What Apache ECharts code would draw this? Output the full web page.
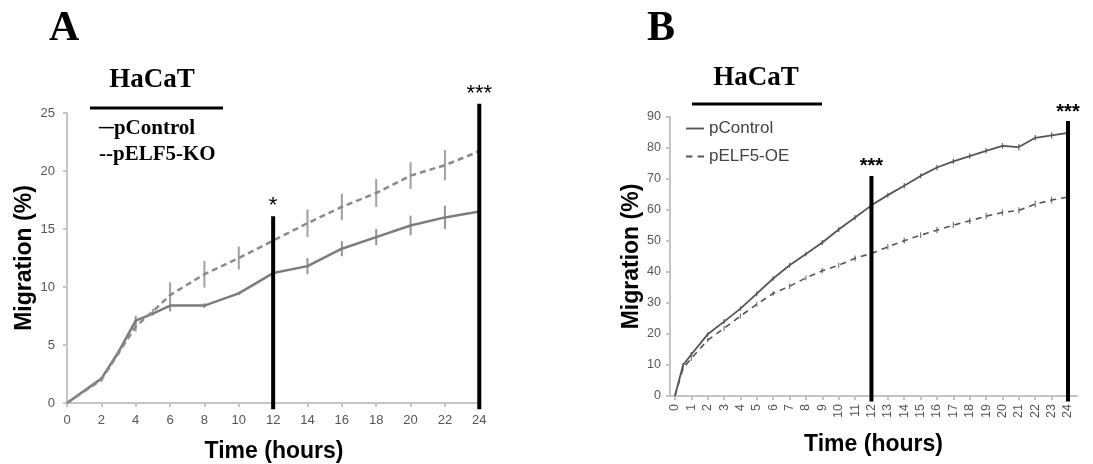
<!DOCTYPE html>
<html><head><meta charset="utf-8">
<script src="https://cdn.jsdelivr.net/npm/echarts@6/dist/echarts.min.js"></script>
<style>html,body{margin:0;padding:0;background:#fff}#chart{width:1093px;height:464px}</style>
</head><body><div id="chart"></div>
<script>
// Panel A: HaCaT migration, control vs ELF5 knockout (mean and error)
const hoursA = [0, 2, 3, 4, 5, 6, 8, 10, 12, 14, 16, 18, 20, 22, 24];
const controlA = [0, 2.1, 4.4, 7.1, 7.7, 8.4, 8.4, 9.45, 11.2, 11.8, 13.3, 14.3, 15.3, 16.0, 16.5];
const controlErrA = [0, 0.15, 0.15, 0.4, 0.15, 0.5, 0.2, 0.15, 0.7, 0.7, 0.65, 0.7, 0.85, 1.0, 1.1];
const koA = [0, 2.0, 4.3, 6.6, 7.9, 9.3, 11.1, 12.5, 14.0, 15.5, 16.9, 18.1, 19.6, 20.5, 21.7];
const koErrA = [0, 0.15, 0.15, 0.45, 0.2, 1.1, 1.15, 1.0, 1.1, 1.2, 1.15, 1.2, 1.15, 1.3, 1.3];
const ticksA = [0, 2, 4, 6, 8, 10, 12, 14, 16, 18, 20, 22, 24];
const sigHoursA = [12, 24];
const sigTopA = [16.1, 25.8];
const sigLabelsA = ['*', '***'];

// Panel B: HaCaT migration, control vs ELF5 overexpression
const hoursB = [0, 0.5, 1, 2, 3, 4, 5, 6, 7, 8, 9, 10, 11, 12, 13, 14, 15, 16, 17, 18, 19, 20, 21, 22, 23, 24];
const controlB = [0, 10, 13.4, 19.9, 24, 28.2, 33, 37.9, 42.2, 45.8, 49.5, 53.7, 57.6, 61.5, 64.8, 67.8, 71, 73.7, 75.7, 77.4, 79.1, 80.7, 80.3, 83.3, 84.1, 84.9];
const controlErrB = [0, 0.6, 0.8, 0.7, 0.8, 0.7, 0.8, 0.7, 0.8, 0.7, 0.8, 0.8, 0.8, 0.9, 0.8, 0.9, 0.8, 0.9, 0.8, 0.9, 0.9, 0.9, 1.0, 0.9, 1.0, 1.0];
const oeB = [0, 9, 12.1, 18, 21.8, 25.8, 29.6, 33.1, 35.4, 38.1, 40.4, 42.2, 44.4, 46, 48.1, 50.1, 51.9, 53.5, 55.1, 56.5, 58, 59.2, 59.9, 61.9, 63.2, 64.2];
const oeErrB = [0, 0.6, 0.8, 0.7, 0.8, 0.8, 0.8, 0.8, 0.9, 0.8, 0.9, 0.8, 0.9, 1.0, 0.9, 1.0, 0.9, 1.0, 1.0, 1.0, 1.0, 1.0, 1.0, 1.1, 1.1, 1.1];
const ticksB = [0, 1, 2, 3, 4, 5, 6, 7, 8, 9, 10, 11, 12, 13, 14, 15, 16, 17, 18, 19, 20, 21, 22, 23, 24];
const sigHoursB = [12, 24];
const sigTopB = [71.0, 88.7];
const sigLabelsB = ['***', '***'];

const SANS = '"Liberation Sans", Arial, sans-serif';
const SERIF = '"Liberation Serif", "Times New Roman", serif';
const AXIS_GREY = '#c4c4c4';
const LABEL_GREY = '#555';

function pairs(xs, ys) { return xs.map((x, i) => [x, ys[i]]); }
function errData(xs, ys, es) { return xs.map((x, i) => [x, ys[i] - es[i], ys[i] + es[i]]); }

function errRender(color, width) {
  return function (params, api) {
    const lo = api.coord([api.value(0), api.value(1)]);
    const hi = api.coord([api.value(0), api.value(2)]);
    return {
      type: 'line',
      shape: { x1: lo[0], y1: lo[1], x2: hi[0], y2: hi[1] },
      style: { stroke: color, lineWidth: width }
    };
  };
}

function sigRender(labels, bottomVal, font) {
  return function (params, api) {
    const top = api.coord([api.value(0), api.value(1)]);
    const bot = api.coord([api.value(0), bottomVal]);
    return {
      type: 'group',
      children: [
        { type: 'line', shape: { x1: top[0], y1: top[1], x2: bot[0], y2: bot[1] + 4 },
          style: { stroke: '#000', lineWidth: 4 } },
        { type: 'text', x: top[0], y: top[1] + 1,
          style: { text: labels[params.dataIndex], align: 'center', verticalAlign: 'bottom',
                   font: font, fill: '#000' } }
      ]
    };
  };
}

const axisLine = { show: true, onZero: false, lineStyle: { color: AXIS_GREY, width: 2 } };
const nameStyle = { color: '#000', fontFamily: SANS, fontSize: 23, fontWeight: 'bold' };
function tick(custom) {
  const t = { show: true, length: 4, lineStyle: { color: AXIS_GREY, width: 2 } };
  if (custom) t.customValues = custom;
  return t;
}
function label(extra) {
  return Object.assign({ color: LABEL_GREY, fontFamily: SANS, fontSize: 13 }, extra);
}

const chart = echarts.init(document.getElementById('chart'), null, { renderer: 'canvas' });

chart.setOption({
  backgroundColor: '#fff',
  animation: false,
  grid: [
    { left: 67, right: 1093 - 481, top: 113, bottom: 464 - 403, outerBoundsMode: 'none', containLabel: false },
    { left: 670, right: 1093 - 1077, top: 117, bottom: 464 - 396, outerBoundsMode: 'none', containLabel: false }
  ],
  xAxis: [
    {
      type: 'value', gridIndex: 0, min: 0, max: 24.1,
      axisLine: axisLine, axisTick: tick(ticksA), splitLine: { show: false },
      axisLabel: label({ margin: 11, customValues: ticksA }),
      name: 'Time (hours)', nameLocation: 'middle', nameGap: 37, nameTextStyle: nameStyle
    },
    {
      type: 'value', gridIndex: 1, min: -0.3, max: 24.55,
      axisLine: axisLine, axisTick: tick(ticksB), splitLine: { show: false },
      axisLabel: label({ margin: 8, rotate: 90, fontSize: 12.5, customValues: ticksB }),
      name: 'Time (hours)', nameLocation: 'middle', nameGap: 37, nameTextStyle: nameStyle
    }
  ],
  yAxis: [
    {
      type: 'value', gridIndex: 0, min: 0, max: 25, interval: 5,
      axisLine: axisLine, axisTick: tick(), splitLine: { show: false },
      axisLabel: label({ margin: 12 }),
      name: 'Migration (%)', nameLocation: 'middle', nameGap: 25, nameTextStyle: nameStyle
    },
    {
      type: 'value', gridIndex: 1, min: 0, max: 90, interval: 10,
      axisLine: axisLine, axisTick: tick(), splitLine: { show: false },
      axisLabel: label({ margin: 9, fontSize: 12.5 }),
      name: 'Migration (%)', nameLocation: 'middle', nameGap: 25, nameTextStyle: nameStyle
    }
  ],
  legend: [
    {
      data: ['pControl', 'pELF5-KO'],
      orient: 'vertical', left: 94, top: 118, itemGap: 5, padding: 0,
      icon: 'none', itemWidth: 0, selectedMode: false,
      formatter: name => (name === 'pControl' ? '\u2500' : '--') + name,
      textStyle: { color: '#000', fontFamily: SERIF, fontSize: 21, fontWeight: 'bold', padding: 0 }
    },
    {
      data: [
        { name: 'pControl ', icon: 'path://M0,0h20v2h-20z' },
        { name: 'pELF5-OE', icon: 'path://M0,0h6v2h-6z M11,0h6v2h-6z' }
      ],
      orient: 'vertical', left: 681, top: 115, itemGap: 11,
      itemWidth: 18, itemHeight: 10, selectedMode: false,
      itemStyle: { color: '#555' },
      textStyle: { color: '#444', fontFamily: SANS, fontSize: 17 }
    }
  ],
  graphic: [
    { type: 'text', left: 49, top: 8, style: { text: 'A', font: 'bold 42px ' + SERIF, fill: '#000' } },
    { type: 'text', left: 647, top: 8, style: { text: 'B', font: 'bold 42px ' + SERIF, fill: '#000' } },
    { type: 'text', x: 152, y: 80, style: { text: 'HaCaT', align: 'center', verticalAlign: 'middle', font: 'bold 27px ' + SERIF, fill: '#000' } },
    { type: 'line', shape: { x1: 90, y1: 108, x2: 223, y2: 108 }, style: { stroke: '#000', lineWidth: 3 } },
    { type: 'text', x: 756, y: 78, style: { text: 'HaCaT', align: 'center', verticalAlign: 'middle', font: 'bold 27px ' + SERIF, fill: '#000' } },
    { type: 'line', shape: { x1: 692, y1: 104, x2: 822, y2: 104 }, style: { stroke: '#000', lineWidth: 3 } }
  ],
  series: [
    // Panel A
    { type: 'custom', name: 'errA1', xAxisIndex: 0, yAxisIndex: 0, z: 2,
      renderItem: errRender('#949494', 2), data: errData(hoursA, controlA, controlErrA) },
    { type: 'custom', name: 'errA2', xAxisIndex: 0, yAxisIndex: 0, z: 2,
      renderItem: errRender('#a0a0a0', 2), data: errData(hoursA, koA, koErrA) },
    { type: 'line', name: 'pControl', xAxisIndex: 0, yAxisIndex: 0, z: 3, color: '#7c7c7c',
      data: pairs(hoursA, controlA), symbol: 'none',
      lineStyle: { color: '#7c7c7c', width: 2.5 } },
    { type: 'line', name: 'pELF5-KO', xAxisIndex: 0, yAxisIndex: 0, z: 3, color: '#8a8a8a',
      data: pairs(hoursA, koA), symbol: 'none',
      lineStyle: { color: '#8a8a8a', width: 2.5, type: [6, 4] } },
    { type: 'custom', name: 'sigA', xAxisIndex: 0, yAxisIndex: 0, z: 5, clip: false,
      renderItem: sigRender(sigLabelsA, -0.2, '22px ' + SANS), data: pairs(sigHoursA, sigTopA) },

    // Panel B
    { type: 'custom', name: 'errB1', xAxisIndex: 1, yAxisIndex: 1, z: 2,
      renderItem: errRender('#666', 1.2), data: errData(hoursB, controlB, controlErrB) },
    { type: 'custom', name: 'errB2', xAxisIndex: 1, yAxisIndex: 1, z: 2,
      renderItem: errRender('#777', 1.2), data: errData(hoursB, oeB, oeErrB) },
    { type: 'line', name: 'pControl ', xAxisIndex: 1, yAxisIndex: 1, z: 3, color: '#555',
      data: pairs(hoursB, controlB), symbol: 'none',
      lineStyle: { color: '#555', width: 1.8 } },
    { type: 'line', name: 'pELF5-OE', xAxisIndex: 1, yAxisIndex: 1, z: 3, color: '#555',
      data: pairs(hoursB, oeB), symbol: 'none',
      lineStyle: { color: '#555', width: 1.6, type: [6, 5] } },
    { type: 'custom', name: 'sigB', xAxisIndex: 1, yAxisIndex: 1, z: 5, clip: false,
      renderItem: sigRender(sigLabelsB, -0.5, 'bold 20px ' + SANS), data: pairs(sigHoursB, sigTopB) }
  ]
});
</script>
</body></html>
